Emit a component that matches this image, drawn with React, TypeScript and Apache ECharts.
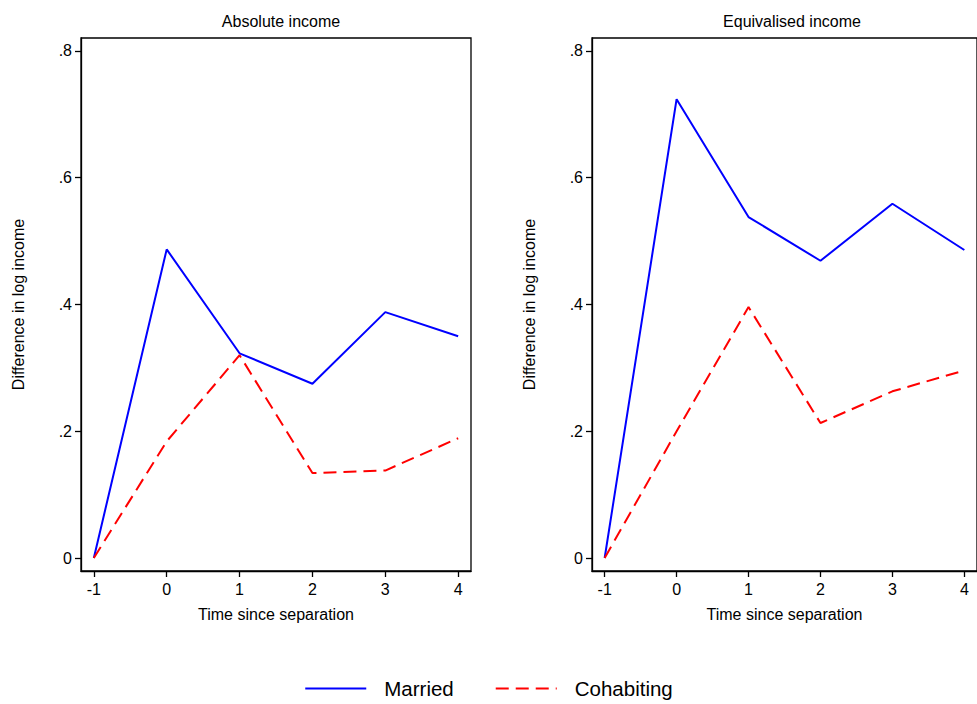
import React, { useEffect, useRef } from "react";
import * as echarts from "echarts";

const times = [-1, 0, 1, 2, 3, 4];
const absMarried = [0, 0.487, 0.323, 0.275, 0.388, 0.35];
const absCohab = [0, 0.184, 0.32, 0.134, 0.138, 0.189];
const eqMarried = [0, 0.724, 0.538, 0.469, 0.559, 0.486];
const eqCohab = [0, 0.2, 0.396, 0.213, 0.263, 0.296];
const xTicks = [-1, 0, 1, 2, 3, 4];
const yTicks = [0, 0.2, 0.4, 0.6, 0.8];
const panelTitles = ["Absolute income", "Equivalised income"];
const seriesNames = ["Married", "Cohabiting"];

const FONT = "'Liberation Sans', Arial, Helvetica, sans-serif";
const FS = 16;

function pairs(vals: number[]) {
  return times.map((t, i) => [t, vals[i]]);
}

export default function App() {
  const ref = useRef<HTMLDivElement>(null);
  useEffect(() => {
    if (!ref.current) return;
    const chart = echarts.init(ref.current, undefined, { renderer: "svg" });
    const grids = [
      { left: 81, top: 38, width: 390, height: 533 },
      { left: 592, top: 38, width: 390, height: 533 },
    ];
    const xAxis = grids.map((_, i) => ({
      type: "value",
      gridIndex: i,
      min: -1.176,
      max: 4.176,
      axisLine: { show: true, onZero: false, lineStyle: { color: "#000", width: 1.3 } },
      axisTick: {
        show: true,
        length: 6,
        inside: false,
        customValues: xTicks,
        lineStyle: { color: "#000", width: 1.3 },
      },
      axisLabel: {
        customValues: xTicks,
        margin: 10,
        color: "#000",
        fontSize: FS,
        fontFamily: FONT,
        formatter: (v: number) => String(v),
      },
      splitLine: { show: false },
      name: "Time since separation",
      nameLocation: "middle",
      nameGap: 35,
      nameTextStyle: { color: "#000", fontSize: FS, fontFamily: FONT },
    }));
    const yAxis = grids.map((_, i) => ({
      type: "value",
      gridIndex: i,
      min: -0.0205,
      max: 0.8205,
      axisLine: { show: true, onZero: false, lineStyle: { color: "#000", width: 1.3 } },
      axisTick: {
        show: true,
        length: 6,
        inside: false,
        customValues: yTicks,
        lineStyle: { color: "#000", width: 1.3 },
      },
      axisLabel: {
        customValues: yTicks,
        margin: 9,
        color: "#000",
        fontSize: FS,
        fontFamily: FONT,
        formatter: (v: number) =>
          v === 0 ? "0" : String(Math.round(v * 10) / 10).replace(/^0/, ""),
      },
      splitLine: { show: false },
      name: "Difference in log income",
      nameLocation: "middle",
      nameGap: 55,
      nameTextStyle: { color: "#000", fontSize: FS, fontFamily: FONT },
    }));
    const mk = (name: string, vals: number[], idx: number, dashed: boolean) => ({
      name,
      type: "line",
      xAxisIndex: idx,
      yAxisIndex: idx,
      data: pairs(vals),
      symbol: "none",
      showSymbol: false,
      lineStyle: {
        color: dashed ? "#ff0000" : "#0000ff",
        width: 2,
        type: dashed ? [13, 7] : "solid",
      },
      itemStyle: { color: dashed ? "#ff0000" : "#0000ff" },
    });
    chart.setOption({
      animation: false,
      backgroundColor: "#fff",
      grid: grids.map((g) => ({
        ...g,
        show: true,
        borderColor: "#000",
        borderWidth: 1.3,
        backgroundColor: "transparent",
        containLabel: false,
      })),
      xAxis,
      yAxis,
      title: panelTitles.map((t, i) => ({
        text: t,
        left: grids[i].left + grids[i].width / 2,
        top: 8,
        textAlign: "center",
        textStyle: { color: "#000", fontSize: FS, fontWeight: "normal", fontFamily: FONT },
      })),
      legend: {
        data: seriesNames,
        bottom: 0,
        left: "center",
        itemWidth: 61,
        itemHeight: 14,
        itemGap: 41,
        itemStyle: { opacity: 0 },
        textStyle: {
          color: "#000",
          fontSize: 20.5,
          fontFamily: FONT,
          padding: [0, 0, 0, 13],
        },
      },
      series: [
        mk(seriesNames[0], absMarried, 0, false),
        mk(seriesNames[1], absCohab, 0, true),
        mk(seriesNames[0], eqMarried, 1, false),
        mk(seriesNames[1], eqCohab, 1, true),
      ],
    });
    return () => chart.dispose();
  }, []);
  return (
    <div
      ref={ref}
      style={{ position: "absolute", left: 0, top: 0, width: 977, height: 704 }}
    />
  );
}
